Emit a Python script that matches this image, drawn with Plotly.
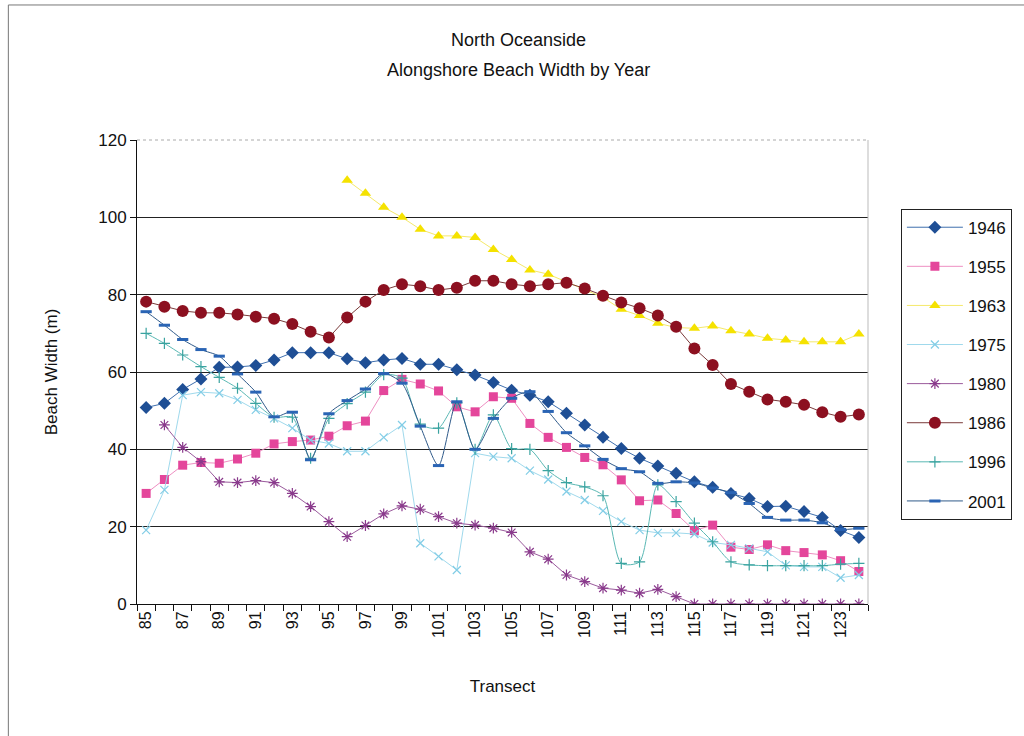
import plotly.graph_objects as go

# Transect numbers along the shoreline
transects = list(range(85, 125))
tick_labels = [str(t) for t in range(85, 124, 2)]

# Beach width (m) per survey year, one value per transect
w1946 = [50.8, 51.9, 55.5, 58.2, 61.2, 61.3, 61.7, 63.1, 65.0, 65.0,
         65.0, 63.4, 62.4, 63.1, 63.5, 62.0, 62.0, 60.6, 59.2, 57.3,
         55.3, 54.0, 52.3, 49.3, 46.3, 43.1, 40.2, 37.7, 35.7, 33.8,
         31.6, 30.2, 28.6, 27.3, 25.2, 25.3, 23.9, 22.4, 19.0, 17.2]
w1955 = [28.6, 32.2, 35.9, 36.6, 36.4, 37.5, 39.0, 41.4, 42.0, 42.4,
         43.4, 46.1, 47.3, 55.2, 58.1, 56.9, 55.1, 51.0, 49.7, 53.6,
         53.2, 46.7, 43.1, 40.5, 37.9, 36.0, 32.1, 26.7, 26.9, 23.4,
         19.0, 20.4, 14.7, 14.1, 15.3, 13.8, 13.3, 12.7, 11.2, 8.4]
w1963 = [None] * 11 + [
         109.6, 106.2, 102.6, 100.0, 96.9, 95.2, 95.2, 94.8, 91.7,
         89.1, 86.4, 85.3, 83.2, 81.3, 79.3, 76.2, 74.6, 72.6, 71.5,
         71.3, 71.9, 70.7, 69.8, 68.7, 68.3, 67.8, 67.8, 67.8, 69.8]
w1975 = [19.1, 29.5, 54.0, 54.8, 54.5, 52.8, 50.2, 48.0, 45.5, 42.4,
         41.5, 39.5, 39.5, 43.1, 46.3, 15.7, 12.3, 8.8, 39.0, 38.1,
         37.7, 34.5, 32.2, 29.1, 26.9, 24.1, 21.3, 19.1, 18.4, 18.4,
         18.1, 15.9, 15.3, 14.4, 13.5, 10.0, 9.6, 9.6, 6.8, 7.5]
w1980 = [None, 46.3, 40.5, 36.8, 31.6, 31.4, 31.9, 31.4, 28.6, 25.2,
         21.3, 17.4, 20.3, 23.3, 25.4, 24.5, 22.6, 20.9, 20.4, 19.6,
         18.5, 13.5, 11.6, 7.5, 5.8, 4.1, 3.6, 2.8, 3.8, 1.9,
         0, 0, 0, 0, 0, 0, 0, 0, 0, 0]
w1986 = [78.2, 76.9, 75.8, 75.3, 75.3, 74.9, 74.3, 73.8, 72.4, 70.4,
         68.9, 74.1, 78.2, 81.2, 82.7, 82.2, 81.2, 81.8, 83.6, 83.6,
         82.7, 82.2, 82.7, 83.1, 81.6, 79.7, 78.0, 76.5, 74.6, 71.7,
         66.1, 61.8, 56.9, 54.9, 52.9, 52.3, 51.5, 49.6, 48.4, 49.0]
w1996 = [70.0, 67.4, 64.4, 61.4, 58.6, 55.8, 51.9, 48.3, 48.3, 37.7,
         48.0, 51.8, 54.8, 59.3, 58.4, 46.5, 45.5, 52.0, 40.0, 48.9,
         40.2, 40.0, 34.5, 31.4, 30.3, 28.0, 10.5, 10.9, 30.8, 26.5,
         20.9, 16.1, 10.9, 10.1, 9.9, 9.9, 9.9, 9.9, 10.3, 10.5]
w2001 = [75.6, 72.1, 68.4, 65.8, 64.1, 59.5, 54.8, 48.4, 49.6, 37.3,
         49.2, 52.6, 55.6, 59.6, 57.1, 46.0, 35.8, 52.3, 40.0, 48.0,
         53.2, 54.9, 49.8, 44.3, 40.9, 37.4, 35.0, 34.2, 31.2, 31.6,
         31.3, 30.0, 28.8, 26.0, 22.4, 21.7, 21.7, 21.0, 19.3, 19.6]

series = [
    ("1946", w1946, dict(symbol="diamond", size=10, color="#1f4f95"),
     dict(color="#3f6fae", width=1), "linear"),
    ("1955", w1955, dict(symbol="square", size=9, color="#e4469b"),
     dict(color="#ee8fc2", width=1), "linear"),
    ("1963", w1963, dict(symbol="triangle-up", size=10, color="#f5e200"),
     dict(color="#f5e96a", width=1), "linear"),
    ("1975", w1975, dict(symbol="x-thin-open", size=8, color="#82cde6",
                         line=dict(color="#82cde6", width=1.2)),
     dict(color="#9fd9ec", width=1), "linear"),
    ("1980", w1980, dict(symbol="asterisk-open", size=9, color="#8a3a8c",
                         line=dict(color="#8a3a8c", width=1.2)),
     dict(color="#9a5a9c", width=1), "linear"),
    ("1986", w1986, dict(symbol="circle", size=12, color="#8c1020"),
     dict(color="#7a3a3a", width=1), "linear"),
    ("1996", w1996, dict(symbol="cross-thin-open", size=8, color="#3aa3a0",
                         line=dict(color="#3aa3a0", width=1.2)),
     dict(color="#5ab8b4", width=1), "spline"),
    ("2001", w2001, dict(symbol="line-ew-open", size=8, color="#2a64b4",
                         line=dict(color="#2a64b4", width=3)),
     dict(color="#2f5a8a", width=1), "spline"),
]

fig = go.Figure()
for i, (name, vals, mk, ln, shape) in enumerate(series):
    fig.add_trace(go.Scatter(
        x=transects, y=vals, name=name, mode="lines+markers",
        marker=mk, line=dict(shape=shape, smoothing=0.7, **ln),
        legendgroup=f"g{i}", connectgaps=False,
    ))

font = "Liberation Sans, Arial, sans-serif"
ink = "#111"

# Two-line chart heading
heading = [("North Oceanside", 1.2155), ("Alongshore Beach Width by Year", 1.151)]
annotations = [
    dict(text=t, xref="paper", yref="paper", x=0.5225, y=y,
         xanchor="center", yanchor="middle", showarrow=False,
         font=dict(size=18, family=font, color=ink))
    for t, y in heading
]

fig.update_layout(
    width=1024, height=736,
    margin=dict(l=137, r=154, t=140, b=132),
    paper_bgcolor="white", plot_bgcolor="white",
    font=dict(family=font, color=ink, size=16),
    annotations=annotations,
    showlegend=True,
    legend=dict(
        x=1.045, xanchor="left", y=0.852, yanchor="top",
        bordercolor="#222", borderwidth=1, bgcolor="white",
        font=dict(size=17, family=font, color=ink),
        tracegroupgap=14, itemwidth=56, traceorder="grouped",
    ),
    shapes=[
        # chart-area frame
        dict(type="rect", xref="paper", yref="paper",
             x0=-0.176, x1=1.3, y0=-0.4, y1=1.291,
             line=dict(color="#777", width=1), layer="below"),
        # plot-area right and top edges
        dict(type="line", xref="paper", yref="paper",
             x0=1, x1=1, y0=0, y1=1,
             line=dict(color="#bbb", width=1)),
        dict(type="line", xref="paper", yref="paper",
             x0=0, x1=1, y0=1, y1=1,
             line=dict(color="#aaa", width=1, dash="dot")),
    ],
)

fig.update_xaxes(
    range=[84.5, 124.5],
    tickmode="array", tickvals=list(range(85, 124, 2)), ticktext=tick_labels,
    tickangle=-90, ticks="", showgrid=False, zeroline=False,
    showline=True, linecolor=ink, linewidth=1,
    tickfont=dict(size=16, family=font, color=ink),
    minor=dict(tickmode="linear", tick0=84.5, dtick=1, ticks="outside",
               ticklen=6, tickcolor=ink, tickwidth=1, showgrid=False),
    title=dict(text="Transect", font=dict(size=17, family=font, color=ink),
               standoff=42),
)

fig.update_yaxes(
    range=[0, 120], tickmode="array", tickvals=[0, 20, 40, 60, 80, 100, 120],
    ticks="outside", ticklen=6, tickcolor=ink,
    showgrid=True, gridcolor="#222", gridwidth=1,
    zeroline=False, showline=True, linecolor=ink, linewidth=1,
    tickfont=dict(size=17, family=font, color=ink),
    title=dict(text="Beach Width (m)", font=dict(size=17, family=font, color=ink),
               standoff=36),
)

fig.write_html("out.html")
